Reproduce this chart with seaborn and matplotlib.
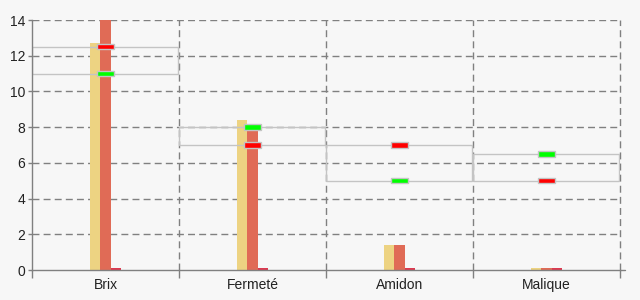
import matplotlib
matplotlib.use("Agg")
import matplotlib.pyplot as plt
import seaborn as sns
import pandas as pd
from matplotlib.patches import Rectangle

categories = ["Brix", "Fermeté", "Amidon", "Malique"]
series_names = ["Série 1", "Série 2", "Série 3"]
serie1 = [12.7, 8.4, 1.4, 0.1]
serie2 = [14.0, 7.9, 1.4, 0.1]
serie3 = [0.1, 0.1, 0.1, 0.1]
range_low = [11.0, 7.0, 5.0, 5.0]
range_high = [12.5, 8.0, 7.0, 6.5]
green_marks = [11.0, 8.0, 5.0, 6.5]
red_marks = [12.5, 7.0, 7.0, 5.0]
y_ticks = [0, 2, 4, 6, 8, 10, 12, 14]

colors = ["#EDD382", "#E06B56", "#DC3A50"]
bg = "#F7F7F7"
grid_c = "#808080"

rows = []
for name, vals in zip(series_names, [serie1, serie2, serie3]):
    for c, v in zip(categories, vals):
        rows.append({"cat": c, "serie": name, "val": v})
df = pd.DataFrame(rows)

sns.set_style("white")
plt.rcParams["font.family"] = ["Liberation Sans", "DejaVu Sans"]

fig = plt.figure(figsize=(6.4, 3.0), dpi=100, facecolor=bg)
ax = fig.add_axes([0.05, 0.1, 0.91875, 0.8333])
ax.set_facecolor(bg)

sns.barplot(data=df, x="cat", y="val", hue="serie", palette=colors,
            width=0.215, gap=0, ax=ax, legend=False, saturation=1,
            linewidth=0, errorbar=None, zorder=3)

# range boxes
for i, (lo, hi) in enumerate(zip(range_low, range_high)):
    ax.add_patch(Rectangle((i - 0.497, lo), 0.99, hi - lo, fill=False,
                           edgecolor="#C4C4C4", linewidth=1.0, zorder=4))

# markers
mw, mh = 0.11, 0.3
for i, (g, r) in enumerate(zip(green_marks, red_marks)):
    for val, col in ((g, "#00FF00"), (r, "#FF0000")):
        ax.add_patch(Rectangle((i - mw / 2, val - mh / 2), mw, mh,
                               facecolor=col, edgecolor="#C4C4C4",
                               linewidth=1.0, zorder=5))

ax.set_xlim(-0.5, 3.5)
ax.set_ylim(0, 14)
ax.set_yticks(y_ticks)
ax.set_xticks(range(len(categories)))
ax.set_xticklabels(categories)
ax.set_xticks([-0.5, 0.5, 1.5, 2.5, 3.5], minor=True)
ax.set_xlabel("")
ax.set_ylabel("")

ax.grid(False)
for y in y_ticks[1:]:
    ax.axhline(y, color=grid_c, linestyle=(0, (5, 3)), linewidth=1.0, zorder=1)
for x in [0.5, 1.5, 2.5, 3.5]:
    ax.axvline(x, color=grid_c, linestyle=(0, (5, 3)), linewidth=1.0, zorder=1,
               clip_on=False)

for s in ["top", "right"]:
    ax.spines[s].set_visible(False)
for s in ["left", "bottom"]:
    ax.spines[s].set_color(grid_c)
    ax.spines[s].set_linewidth(1.0)
    ax.spines[s].set_zorder(6)

ax.tick_params(axis="y", which="major", direction="out", length=3, width=1,
               color=grid_c, labelsize=10, labelcolor="#222222", pad=2, left=True)
ax.tick_params(axis="x", which="major", length=0, labelsize=10,
               labelcolor="#222222", pad=6, bottom=True)
ax.tick_params(axis="x", which="minor", direction="out", length=6, width=1,
               color=grid_c, bottom=True)

# extend x axis line slightly right
ax.plot([1.0, 1.009], [0, 0], transform=ax.transAxes, color=grid_c,
        linewidth=1.0, clip_on=False)

fig.savefig("out.png", dpi=100, facecolor=bg)
